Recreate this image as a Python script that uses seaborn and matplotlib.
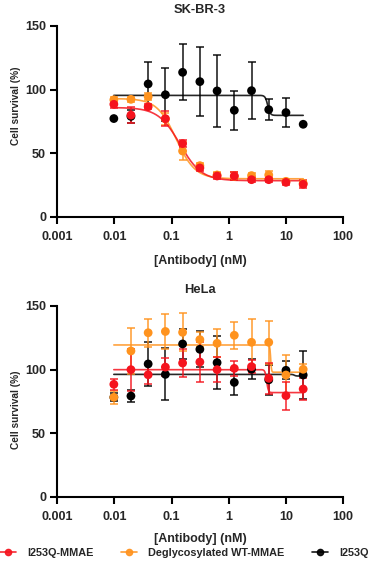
import numpy as np
import pandas as pd
import matplotlib.pyplot as plt
import seaborn as sns

# antibody concentrations (nM), 2-fold dilution series
conc = [0.0098, 0.0195, 0.039, 0.078, 0.156, 0.3125, 0.625, 1.25, 2.5, 5, 10, 20]

names = ['I253Q-MMAE', 'Deglycosylated WT-MMAE', 'I253Q']
colors = {'I253Q-MMAE': '#f5141e', 'Deglycosylated WT-MMAE': '#ff931e', 'I253Q': '#000000'}

# SK-BR-3 cell survival (%) and SD
skbr3_red = [88.5, 80.0, 86.6, 77.2, 57.6, 38.5, 32.2, 32.2, 29.3, 29.3, 27.2, 25.7]
skbr3_red_err = [3, 6, 2, 6, 3, 2, 2, 3, 2, 2, 2, 3]
skbr3_orange = [92.0, 92.4, 94.5, 77.0, 51.8, 40.3, 33.0, 32.0, 32.5, 33.0, 28.0, 26.5]
skbr3_orange_err = [2, 2, 3, 5, 7, 2, 2, 3, 2, 3, 2, 2]
skbr3_black = [77.3, 79.0, 104.5, 96.0, 113.6, 106.3, 99.0, 83.8, 99.2, 84.3, 82.0, 72.8]
skbr3_black_err = [0, 5, 17, 21, 22, 27, 28, 15.5, 22.5, 8, 11.5, 0]

# HeLa cell survival (%) and SD
hela_red = [88.5, 100.0, 96.0, 102.0, 105.2, 106.0, 100.0, 101.0, 102.4, 93.2, 79.6, 84.8]
hela_red_err = [4.3, 16.5, 7.5, 7, 11, 16, 10, 6, 5, 12, 11, 8.5]
hela_orange = [78.3, 114.7, 129.0, 130.0, 129.3, 123.6, 120.7, 127.0, 121.5, 121.5, 95.8, 100.3]
hela_orange_err = [5, 18, 11, 14, 15, 6, 11, 10.5, 18, 17, 16, 4.5]
hela_black = [78.3, 79.3, 104.5, 96.3, 120.2, 116.0, 105.5, 90.0, 100.3, 92.0, 99.5, 95.8]
hela_black_err = [3, 5, 17, 20.5, 12, 14, 21, 10, 8, 12, 7, 19]

# fitted 4PL curves: bottom, top, EC50 (nM), hill slope
skbr3_fits = {'I253Q-MMAE': [28.5, 86.0, 0.14, 2.3],
              'Deglycosylated WT-MMAE': [30.0, 93.0, 0.12, 2.6],
              'I253Q': [79.8, 95.5, 4.8, 20]}
hela_fits = {'I253Q-MMAE': [82.0, 100.0, 4.6, 30],
             'Deglycosylated WT-MMAE': [98.0, 119.4, 5.4, 60],
             'I253Q': [95.0, 96.3, 14.0, 30]}

panels = [
    ('SK-BR-3', {'I253Q-MMAE': (skbr3_red, skbr3_red_err),
                 'Deglycosylated WT-MMAE': (skbr3_orange, skbr3_orange_err),
                 'I253Q': (skbr3_black, skbr3_black_err)}, skbr3_fits),
    ('HeLa', {'I253Q-MMAE': (hela_red, hela_red_err),
              'Deglycosylated WT-MMAE': (hela_orange, hela_orange_err),
              'I253Q': (hela_black, hela_black_err)}, hela_fits),
]

sns.set_style('ticks')
plt.rcParams['font.family'] = ['Liberation Sans', 'DejaVu Sans']
plt.rcParams['font.weight'] = 'bold'
plt.rcParams['font.size'] = 9

fig = plt.figure(figsize=(3.71, 5.71), dpi=100)
ax_top = fig.add_axes([0.154, 0.620, 0.771, 0.3345])
ax_bot = fig.add_axes([0.154, 0.1296, 0.771, 0.3345])
ylabel_pos = [0.58, 0.455]
xlabel_pad = [9, 7]

draw_order = ['I253Q', 'Deglycosylated WT-MMAE', 'I253Q-MMAE']
for i, (ax, (title, data, fits)) in enumerate(zip([ax_top, ax_bot], panels)):
    for name in draw_order:
        y, err = data[name]
        c = colors[name]
        b, t, ec50, h = fits[name]
        xs = np.logspace(np.log10(conc[0]), np.log10(conc[-1]), 400)
        fit_df = pd.DataFrame({'x': xs, 'y': b + (t - b) / (1 + (xs / ec50) ** h)})
        sns.lineplot(data=fit_df, x='x', y='y', color=c, lw=1.2, alpha=0.85, ax=ax)
        ax.errorbar(conc, y, yerr=err, fmt='none', ecolor=c, elinewidth=1.2,
                    capsize=3, capthick=1.2, alpha=0.85)
        df = pd.DataFrame({'x': conc, 'y': y})
        sns.scatterplot(data=df, x='x', y='y', color=c, s=40, edgecolor='none', ax=ax, zorder=3)

    ax.set_xscale('log')
    ax.set_xlim(0.001, 100)
    ax.set_ylim(0, 150)
    ax.set_xticks([0.001, 0.01, 0.1, 1, 10, 100])
    ax.set_xticklabels(['0.001', '0.01', '0.1', '1', '10', '100'])
    ax.minorticks_off()
    ax.set_yticks([0, 50, 100, 150])
    ax.set_title(title, fontsize=9.3, fontweight='bold', pad=9)
    ax.set_xlabel('[Antibody] (nM)', fontsize=9, fontweight='bold', labelpad=xlabel_pad[i])
    ax.set_ylabel('Cell survival (%)', fontsize=7.3, fontweight='bold')
    ax.yaxis.set_label_coords(-0.125, ylabel_pos[i])
    sns.despine(ax=ax)
    for s in ['left', 'bottom']:
        ax.spines[s].set_linewidth(1.5)
        ax.spines[s].set_color('black')
    ax.tick_params(width=1.5, length=5, color='black', labelsize=9)
    ax.tick_params(axis='x', pad=5)
    ax.tick_params(axis='y', pad=3)

handles = [plt.Line2D([], [], color=colors[n], marker='o', markersize=4.5, lw=1.2, alpha=0.9)
           for n in names]
fig.legend(handles, names, loc='center left', bbox_to_anchor=(0.0, 1 - 553 / 571),
           ncol=3, frameon=False, handlelength=1.5, handletextpad=1.0,
           columnspacing=2.55, borderpad=0, borderaxespad=0, fontsize=7.8)

fig.savefig('out.png', dpi=100)
